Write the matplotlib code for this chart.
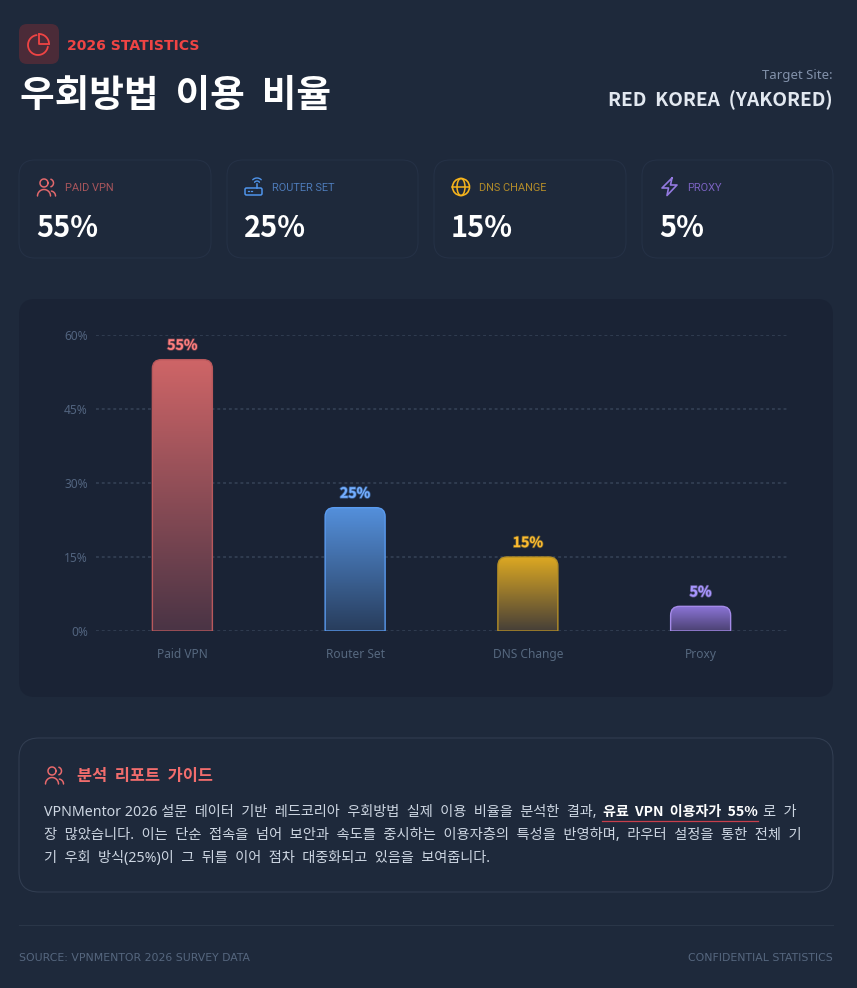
# -*- coding: utf-8 -*-
"""
Survey chart: share of circumvention methods, dark dashboard style
"""

import matplotlib
matplotlib.use('Agg')
import matplotlib.pyplot as plt
import matplotlib.patheffects as pe
import numpy as np
from matplotlib.colors import to_rgb
from matplotlib.patches import FancyBboxPatch, PathPatch, Circle, Ellipse
from matplotlib.path import Path

KR = ['Noto Sans', 'Noto Sans CJK KR', 'DejaVu Sans']
KB = ['Noto Sans CJK KR', 'DejaVu Sans']  # Noto Sans has no bold here
plt.rcParams['font.family'] = KR

# data
categories = ['Paid VPN', 'Router Set', 'DNS Change', 'Proxy']
card_labels = ['PAID VPN', 'ROUTER SET', 'DNS CHANGE', 'PROXY']
values = [55, 25, 15, 5]
y_ticks = [0, 15, 30, 45, 60]
bar_top = ['#cf6567', '#5490dc', '#dca822', '#8c74d8']
bar_bottom = ['#4a3445', '#283d5c', '#463f38', '#4b4272']
bar_edge = ['#b8585c', '#5a9bf0', '#b58f26', '#a48ae8']
label_colors = ['#ff7f7f', '#74aeff', '#fdbb30', '#a796ff']
card_text = ['#a9565c', '#4d7ab8', '#b08a2a', '#7a62c0']
icon_colors = ['#e2686c', '#4f94ea', '#f5b31c', '#9379e0']

BG = '#1e293b'
PANEL = '#1a2335'
W, H = 857, 988

fig = plt.figure(figsize=(W / 100, H / 100), dpi=100, facecolor=BG)
bg = fig.add_axes([0, 0, 1, 1])
bg.set_xlim(0, W)
bg.set_ylim(H, 0)
bg.axis('off')


def put(x, y, s, px, color, weight='normal', ha='left', family=KR, **kw):
    return bg.text(x, y, s, fontsize=px * 0.72, color=color, fontweight=weight,
                   ha=ha, va='center', family=family, **kw)


def wide(s):
    # the reference has much wider word gaps than these fonts
    return s.replace(' ', '  ')


def box(x0, y0, x1, y1, r, face, edge, lw=0.75):
    bg.add_patch(FancyBboxPatch((x0, y0), x1 - x0, y1 - y0,
                                boxstyle='round,pad=0,rounding_size=%s' % r,
                                fc=face, ec=edge, lw=lw))


def arc(cx, cy, r, a0, a1, color, lw=1.1):
    t = np.radians(np.linspace(a0, a1, 40))
    bg.plot(cx + r * np.cos(t), cy + r * np.sin(t), color=color, lw=lw,
            solid_capstyle='round')


def users_icon(x, y, color):
    # head, shoulders and the second person behind
    arc(x + 7, y + 5, 4, 0, 360, color)
    arc(x + 7, y + 18, 6.5, 180, 360, color)
    arc(x + 12.5, y + 5, 4, -70, 70, color)
    arc(x + 13.5, y + 18, 5, 280, 360, color)


def router_icon(x, y, color):
    box(x, y + 10, x + 17, y + 17, 1.5, 'none', color, 1.1)
    bg.plot([x + 3, x + 4], [y + 13.5, y + 13.5], color=color, lw=0.9)
    bg.plot([x + 6.5, x + 7.5], [y + 13.5, y + 13.5], color=color, lw=0.9)
    bg.plot([x + 12, x + 12], [y + 10, y + 6], color=color, lw=1.1)
    arc(x + 12, y + 6, 3, 215, 325, color, 1.0)
    arc(x + 12, y + 6, 6, 225, 315, color, 1.0)


def globe_icon(x, y, color):
    bg.add_patch(Circle((x, y), 8.5, fc='none', ec=color, lw=1.2))
    bg.add_patch(Ellipse((x, y), 8, 17, fc='none', ec=color, lw=1.1))
    bg.plot([x - 8.5, x + 8.5], [y, y], color=color, lw=1.1)


def zap_icon(x, y, color):
    xs = [x + 11, x + 1, x + 7.5, x + 6, x + 16, x + 9.5, x + 11]
    ys = [y, y + 10, y + 10, y + 17.5, y + 7, y + 7, y]
    bg.plot(xs, ys, color=color, lw=1.2, solid_joinstyle='round')


# header
box(19, 24, 59, 64, 8, '#4b2b38', 'none')
arc(38, 45, 10, 10, 262, '#ef4444', 1.3)
arc(39, 44, 10, -90, 0, '#ef4444', 1.3)
bg.plot([39, 39, 49], [34, 44, 44], color='#ef4444', lw=1.3)
put(67, 46, '2026 STATISTICS', 14, '#ef4444', 'bold', family='DejaVu Sans')
put(20, 96, wide('우회방법 이용 비율'), 37.7, 'white', 'bold', family=KB)
put(833, 75, 'Target Site:', 13.2, '#8291aa', ha='right')
put(833, 100, wide('RED KOREA (YAKORED)'), 19.1, '#e2e8f0', 'bold', ha='right', family=KB)

# stat cards
card_x = [(19, 211), (227, 418), (434, 626), (642, 833)]
for i in range(4):
    x0, x1 = card_x[i]
    box(x0, 160, x1, 258, 16, '#1e293b', '#253146')
    put(x0 + 46 if i < 1 else x0 + 45, 188, card_labels[i], 11, card_text[i], family='Roboto')
    put(x0 + 17, 228, '%d%%' % values[i], 29, 'white', 'bold', family=KB)
users_icon(37, 178, icon_colors[0])
router_icon(245, 178, icon_colors[1])
globe_icon(461, 187, icon_colors[2])
zap_icon(661, 178, icon_colors[3])

# chart panel
box(19, 299, 833, 697, 16, PANEL, 'none')

ax = fig.add_axes([96 / W, 1 - 631 / H, (787 - 96) / W, 296 / H])
ax.patch.set_alpha(0)
for s in ax.spines.values():
    s.set_visible(False)
ax.grid(axis='y', color='#323e52', lw=1.3, linestyle=(0, (1.6, 1.6)))
ax.set_axisbelow(True)
ax.tick_params(length=0)

bar_w = 60 / (691 / 4)
rx = 9 / (691 / 4)
ry = 9 * 60 / 296
for i, v in enumerate(values):
    x0, x1 = i - bar_w / 2, i + bar_w / 2
    verts = [(x0, 0), (x0, v - ry), (x0, v), (x0 + rx, v), (x1 - rx, v),
             (x1, v), (x1, v - ry), (x1, 0), (x0, 0)]
    codes = [Path.MOVETO, Path.LINETO, Path.CURVE3, Path.CURVE3, Path.LINETO,
             Path.CURVE3, Path.CURVE3, Path.LINETO, Path.CLOSEPOLY]
    shape = Path(verts, codes)
    grad = np.linspace(to_rgb(bar_top[i]), to_rgb(bar_bottom[i]), 256)[:, None, :]
    im = ax.imshow(grad, extent=(x0, x1, 0, v), aspect='auto', zorder=2)
    im.set_clip_path(shape, ax.transData)
    ax.add_patch(PathPatch(shape, fc='none', ec=bar_edge[i], lw=1.0, zorder=3))
    ax.annotate('%d%%' % v, (i, v), xytext=(0, 10), textcoords='offset points',
                ha='center', va='center', fontsize=10.2, fontweight='bold',
                family=KB, color=label_colors[i], zorder=4,
                path_effects=[pe.withStroke(linewidth=1.2, foreground=bar_edge[i], alpha=0.5)])

ax.set_xlim(-0.5, 3.5)
ax.set_ylim(0, 60)
ax.set_xticks(range(4))
ax.set_xticklabels(categories, fontsize=8.6, color='#56687f')
ax.tick_params(axis='x', pad=12.5)
ax.set_yticks(y_ticks)
ax.set_yticklabels(['%d%%' % t for t in y_ticks], fontsize=8.6, color='#52647f')
ax.tick_params(axis='y', pad=5.8)

# report card
box(19, 738, 833, 892, 20, BG, '#323e52')
users_icon(45, 766, '#e8696c')
put(77, 776, wide('분석 리포트 가이드'), 16.4, '#f26d6d', 'bold', family=KB)
BODY = '#cdd6e2'
put(44, 812.5, 'VPNMentor 2026 ' + wide('설문 데이터 기반 레드코리아 우회방법 실제 이용 비율을 분석한 결과,'), 14.2, BODY)
put(603, 811.5, wide('유료 VPN 이용자가 55%'), 14, 'white', 'bold', family=KB)
bg.plot([602, 758], [820.5, 820.5], color='#c8404c', lw=0.9)
put(763, 812.5, wide('로 가'), 14.2, BODY)
put(44, 835.5, wide('장 많았습니다. 이는 단순 접속을 넘어 보안과 속도를 중시하는 이용자층의 특성을 반영하며, 라우터 설정을 통한 전체 기'), 14.3, BODY)
put(44, 858.5, wide('기 우회 방식(25%)이 그 뒤를 이어 점차 대중화되고 있음을 보여줍니다.'), 14.2, BODY)

# footer
bg.plot([19, 833], [925, 925], color='#2a3648', lw=0.75)
put(19, 958, 'SOURCE: VPNMENTOR 2026 SURVEY DATA', 10.85, '#56677f', family='DejaVu Sans')
put(833, 958, 'CONFIDENTIAL STATISTICS', 10.85, '#56677f', ha='right', family='DejaVu Sans')

fig.savefig('out.png', dpi=100, facecolor=BG)
